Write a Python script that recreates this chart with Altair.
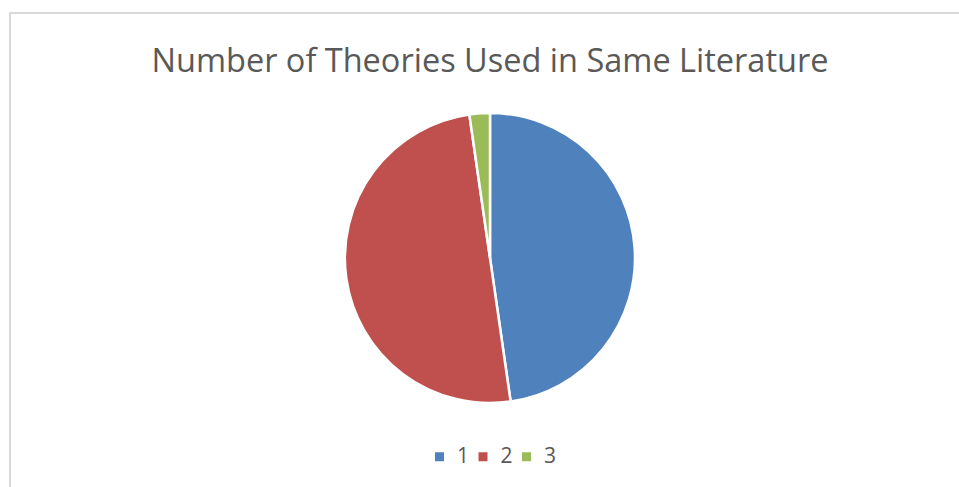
import altair as alt
import pandas as pd

categories = ["1", "2", "3"]
counts = [21, 22, 1]
colors = ["#4f81bd", "#c0504d", "#9bbb59"]
title_text = "Number of Theories Used in Same Literature"

df = pd.DataFrame({"theories": categories, "count": counts, "order": [0, 1, 2]})

W, H = 959, 487

pie = alt.Chart(df).mark_arc(radius=145, stroke="white", strokeWidth=2.5).encode(
    theta=alt.Theta("count:Q", stack=True),
    order=alt.Order("order:Q"),
    color=alt.Color(
        "theories:N",
        scale=alt.Scale(domain=categories, range=colors),
        legend=alt.Legend(
            title=None,
            orient="none",
            legendX=429,
            legendY=446,
            direction="horizontal",
            symbolType="square",
            symbolSize=81,
            symbolStrokeWidth=0,
            labelFontSize=21,
            labelColor="#595959",
            labelFont="Open Sans",
            columnPadding=2.5,
            labelOffset=7,
        ),
    ),
    x=alt.value(490),
    y=alt.value(258),
)

frame = alt.Chart(pd.DataFrame({"a": [0]})).mark_rect(
    fill="white", stroke="#d9d9d9", strokeWidth=2
).encode(
    x=alt.value(10), x2=alt.value(975), y=alt.value(13), y2=alt.value(500)
)

title = alt.Chart(pd.DataFrame({"t": [title_text]})).mark_text(
    fontSize=32.5, font="Open Sans", color="#595959", align="center", baseline="alphabetic"
).encode(text="t:N", x=alt.value(490), y=alt.value(72))

chart = alt.layer(frame, title, pie).properties(
    width=W, height=H, padding=0, autosize=alt.AutoSizeParams(type="none")
).configure_view(stroke=None)

chart.save("out.html", embed_options={"renderer": "svg", "actions": False})
